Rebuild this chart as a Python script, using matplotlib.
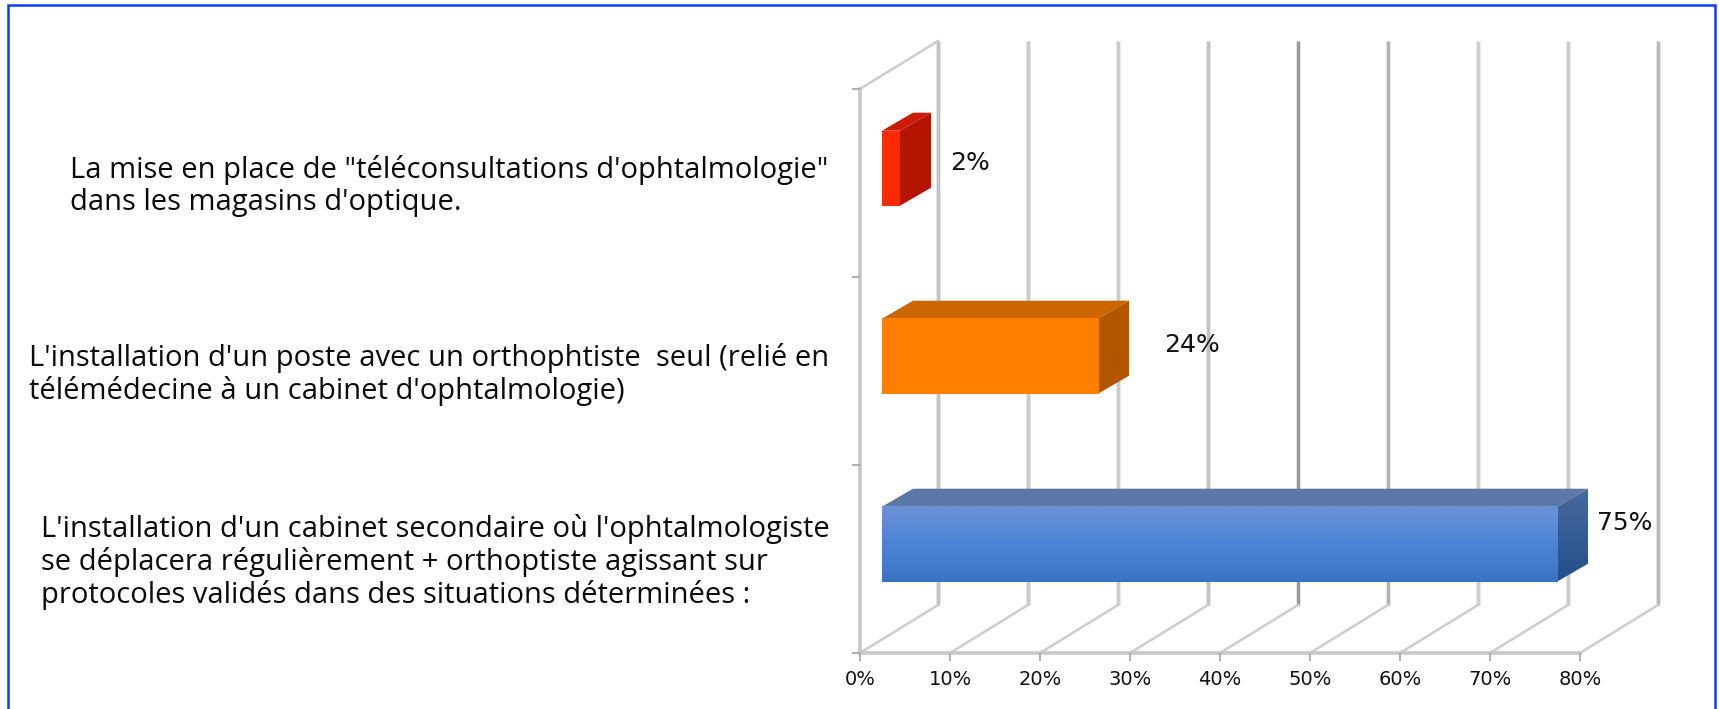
import numpy as np
import matplotlib
matplotlib.use("Agg")
import matplotlib.pyplot as plt
from matplotlib.patches import Polygon, Rectangle
from matplotlib.colors import LinearSegmentedColormap

# ---- data ----
categories = [
    "L'installation d'un cabinet secondaire où l'ophtalmologiste\nse déplacera régulièrement + orthoptiste agissant sur\nprotocoles validés dans des situations déterminées :",
    "L'installation d'un poste avec un orthophtiste  seul (relié en\ntélémédecine à un cabinet d'ophtalmologie)",
    "La mise en place de \"téléconsultations d'ophtalmologie\"\ndans les magasins d'optique.",
]
values = [75, 24, 2]
value_labels = ["75%", "24%", "2%"]
x_ticks = [0, 10, 20, 30, 40, 50, 60, 70, 80]
x_tick_labels = ["0%", "10%", "20%", "30%", "40%", "50%", "60%", "70%", "80%"]
grid_colors = ["#c4c4c4", "#cbcbcb", "#cdcdcd", "#c2c2c2", "#9a9a9a", "#b4b4b4", "#d0d0d0", "#cccccc", "#b8b8b8"]

# ---- layout (pixels of the 1719x709 canvas) ----
W, H = 1719, 709
AX_L, AX_R, AX_T, AX_B = 860, 1580, 89, 653
DX, DY = 78, 48          # depth of the chart box
BAR_DX, BAR_DY = 31, 18  # depth of one bar
BAR_X0 = 22              # gap between the wall and the bar start
BAR_H = 75
BAR_SHIFT = 14.8         # bars sit this far above the slot centre

fig = plt.figure(figsize=(W / 100, H / 100), dpi=100, facecolor="white")
ax = fig.add_axes([AX_L / W, 1 - AX_B / H, (AX_R - AX_L) / W, (AX_B - AX_T) / H])
ax.patch.set_visible(False)
for s in ax.spines.values():
    s.set_visible(False)

ux = (AX_R - AX_L) / 80.0      # pixels per percent
uy = (AX_B - AX_T) / 3.0       # pixels per category
ddx, ddy = DX / ux, DY / uy    # box depth in data units
bdx, bdy = BAR_DX / ux, BAR_DY / uy
x0 = BAR_X0 / ux
bh = BAR_H / uy
shift = BAR_SHIFT / uy

# back wall grid and floor
for t, c in zip(x_ticks, grid_colors):
    ax.plot([t + ddx, t + ddx], [ddy, 3 + ddy], color="#e8e8e8", lw=3.6, clip_on=False, zorder=1, solid_capstyle="butt")
    ax.plot([t + ddx, t + ddx], [ddy, 3 + ddy], color=c, lw=2.2, clip_on=False, zorder=1.1, solid_capstyle="butt")
    ax.plot([t, t + ddx], [0, ddy], color="#cccccc", lw=1.8, clip_on=False, zorder=1.2)
# left wall
ax.plot([0, 0], [0, 3], color="#c8c8c8", lw=2.6, clip_on=False, zorder=1.3)
ax.plot([0, ddx], [3, 3 + ddy], color="#cccccc", lw=1.8, clip_on=False, zorder=1.2)
ax.plot([0, 80], [0, 0], color="#c8c8c8", lw=2.6, clip_on=False, zorder=1.3)

ax.set_xticks(x_ticks)
ax.set_xticklabels(x_tick_labels, fontsize=14, color="#111111", family="DejaVu Sans")
ax.set_yticks([0, 1, 2, 3])
ax.set_yticklabels([])
ax.tick_params(axis="both", length=6, width=1.3, color="#a8a8a8")
ax.tick_params(axis="x", pad=6)


def vgrad(x1, x2, y1, y2, colors, clip, z):
    cm = LinearSegmentedColormap.from_list("g", colors)
    g = np.linspace(0, 1, 64).reshape(-1, 1)
    im = ax.imshow(g, cmap=cm, extent=[x1, x2, y1, y2], aspect="auto", zorder=z,
                   vmin=0, vmax=1, interpolation="bilinear")
    im.set_clip_path(clip)
    im.set_clip_box(fig.bbox)


styles = [
    dict(front=["#6d92d6", "#4c84d6", "#3a72c4"], top="#5c78a8", side=["#48699d", "#234f8c"]),
    dict(front=["#ff7f00", "#ff7f00"], top="#cc6600", side=["#b25600", "#b25600"]),
    dict(front=["#ff2a00", "#ff2a00"], top="#cc1c00", side=["#b31500", "#b31500"]),
]

for i, (v, st) in enumerate(zip(values, styles)):
    yc = i + 0.5 + shift
    y1, y2 = yc - bh / 2, yc + bh / 2
    xa, xb = x0, x0 + v
    ax.add_patch(Polygon([(xa, y2), (xb, y2), (xb + bdx, y2 + bdy), (xa + bdx, y2 + bdy)],
                         closed=True, fc=st["top"], ec="none", zorder=3, clip_on=False))
    side = Polygon([(xb, y1), (xb + bdx, y1 + bdy), (xb + bdx, y2 + bdy), (xb, y2)],
                   closed=True, fc="none", ec="none", transform=ax.transData)
    ax.add_patch(side)
    side.set_clip_on(False)
    vgrad(xb, xb + bdx, y1, y2 + bdy, st["side"], side, 3)
    front = Rectangle((xa, y1), v, bh, fc="none", ec="none", transform=ax.transData)
    ax.add_patch(front)
    vgrad(xa, xb, y1, y2, st["front"], front, 3.1)
ax.set_xlim(0, 80)
ax.set_ylim(0, 3)

# value labels
value_px = [(1625, 523), (1192, 345), (970, 163)]
for lab, (px, py) in zip(value_labels, value_px):
    fig.text(px / W, 1 - py / H, lab, ha="center", va="center", fontsize=18, color="#111111", family="DejaVu Sans")

# category labels
cat_px = [(41, 528), (29, 357), (70, 169)]
for txt, (px, py) in zip(categories, cat_px):
    fig.text(px / W, 1 - (py - 14) / H, txt, ha="left", va="top", fontsize=21, color="#0a0a0a",
             family="Open Sans", linespacing=1.13)

# outer frame: the bottom edge lies beyond the canvas
fig.add_artist(Rectangle((8 / W, 1 - 730 / H), (1715 - 8) / W, 725 / H, transform=fig.transFigure,
                         fc="none", ec="#0a3cff", lw=1.8))
fig.savefig("out.png", dpi=100)
